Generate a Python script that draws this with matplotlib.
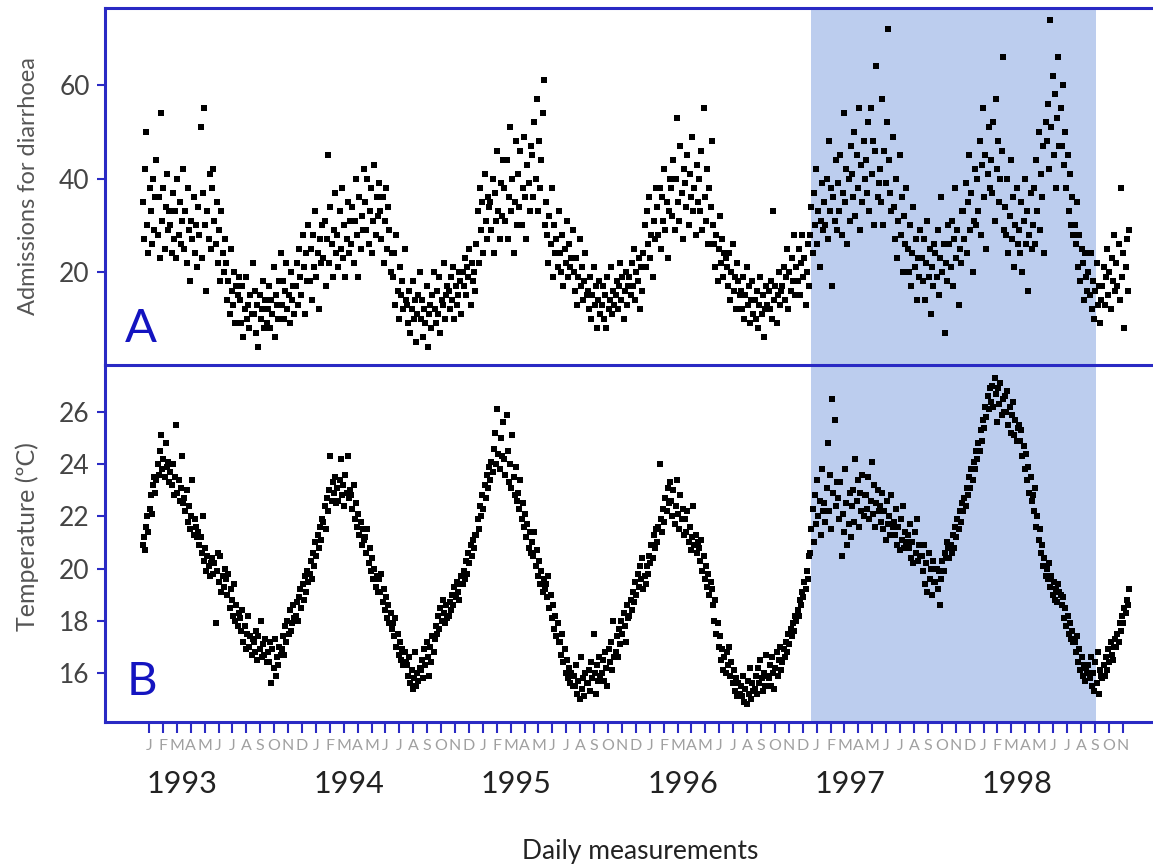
import numpy as np
import matplotlib
matplotlib.use("Agg")
import matplotlib.pyplot as plt
import matplotlib.transforms as mtransforms

plt.rcParams['font.family'] = ['Lato', 'DejaVu Sans']

# daily admissions for diarrhoea (12 readings per month)
adm_1993 = [
    [35, 27, 42, 50, 30, 24, 38, 33, 26, 40, 29, 36],
    [44, 28, 36, 23, 54, 31, 38, 25, 34, 41, 29, 33],
    [30, 24, 37, 27, 33, 23, 40, 28, 35, 26, 31, 42],
    [25, 33, 22, 38, 29, 18, 31, 27, 36, 24, 30, 21],
    [34, 28, 51, 23, 37, 55, 30, 16, 33, 27, 41, 25],
    [38, 42, 31, 26, 35, 22, 29, 18, 33, 24, 20, 27],
    [22, 14, 18, 11, 25, 16, 13, 20, 9, 17, 15, 19],
    [14, 9, 17, 6, 12, 19, 10, 13, 8, 15, 11, 22],
    [11, 16, 7, 13, 4, 15, 10, 12, 18, 8, 14, 9],
    [12, 17, 8, 14, 11, 21, 6, 15, 13, 10, 18, 24],
    [13, 18, 10, 16, 22, 12, 15, 9, 20, 14, 17, 11],
    [17, 22, 13, 25, 19, 15, 28, 21, 11, 24, 18, 30],
]
adm_1994 = [
    [18, 25, 14, 28, 21, 33, 19, 24, 12, 27, 22, 30],
    [23, 31, 17, 27, 45, 22, 34, 26, 19, 29, 37, 24],
    [28, 21, 33, 25, 38, 23, 30, 19, 27, 35, 24, 31],
    [26, 34, 22, 31, 40, 28, 19, 36, 25, 32, 29, 42],
    [35, 29, 40, 26, 33, 38, 24, 31, 43, 28, 36, 32],
    [39, 33, 27, 36, 22, 31, 38, 25, 34, 29, 20, 24],
    [19, 24, 13, 28, 16, 10, 21, 15, 18, 12, 25, 14],
    [13, 9, 16, 7, 12, 18, 10, 14, 5, 11, 15, 20],
    [10, 14, 6, 12, 9, 17, 4, 11, 13, 8, 15, 20],
    [12, 9, 16, 11, 19, 7, 14, 13, 22, 10, 15, 17],
    [16, 12, 19, 14, 21, 10, 17, 13, 15, 20, 18, 11],
    [20, 17, 23, 15, 21, 19, 25, 13, 22, 18, 20, 16],
]
adm_1995 = [
    [26, 33, 22, 38, 29, 35, 24, 41, 31, 27, 36, 34],
    [35, 29, 40, 24, 37, 31, 46, 33, 27, 39, 32, 44],
    [38, 31, 44, 27, 36, 51, 33, 40, 24, 35, 48, 30],
    [41, 34, 46, 30, 38, 49, 36, 27, 43, 39, 33, 47],
    [45, 36, 52, 40, 57, 33, 48, 38, 44, 54, 61, 30],
    [35, 28, 22, 32, 26, 38, 19, 30, 24, 27, 21, 33],
    [24, 20, 28, 17, 25, 22, 31, 19, 26, 21, 23, 29],
    [20, 16, 23, 13, 19, 27, 17, 21, 14, 18, 24, 15],
    [16, 12, 19, 10, 15, 21, 13, 17, 8, 14, 18, 11],
    [13, 17, 10, 15, 8, 19, 12, 14, 21, 11, 16, 13],
    [15, 18, 12, 17, 22, 14, 19, 10, 16, 20, 13, 17],
    [19, 15, 22, 17, 25, 14, 20, 18, 23, 12, 21, 16],
]
adm_1996 = [
    [24, 30, 21, 33, 26, 36, 23, 28, 19, 31, 27, 38],
    [34, 28, 38, 25, 36, 31, 42, 29, 35, 23, 33, 40],
    [38, 32, 44, 29, 40, 53, 35, 31, 47, 37, 27, 42],
    [39, 34, 45, 30, 41, 36, 49, 33, 38, 28, 43, 35],
    [40, 33, 46, 29, 55, 36, 31, 42, 26, 38, 34, 48],
    [30, 26, 21, 28, 18, 25, 32, 22, 27, 19, 24, 23],
    [21, 17, 24, 14, 20, 26, 16, 19, 12, 22, 18, 15],
    [16, 12, 19, 10, 15, 21, 13, 17, 9, 14, 18, 11],
    [14, 10, 16, 8, 13, 19, 11, 15, 6, 12, 17, 13],
    [16, 12, 18, 10, 33, 14, 17, 9, 15, 20, 13, 16],
    [17, 21, 14, 19, 25, 12, 20, 16, 23, 18, 28, 15],
    [21, 18, 25, 15, 22, 28, 19, 23, 13, 20, 26, 17],
]
adm_1997 = [
    [28, 34, 24, 37, 30, 42, 26, 33, 21, 31, 39, 29],
    [35, 30, 40, 27, 48, 33, 38, 17, 36, 31, 44, 29],
    [39, 33, 45, 28, 37, 54, 35, 42, 26, 40, 31, 47],
    [41, 36, 50, 32, 45, 38, 55, 29, 43, 35, 48, 40],
    [44, 37, 52, 33, 55, 41, 48, 30, 46, 64, 36, 39],
    [42, 35, 57, 30, 46, 39, 52, 72, 44, 37, 33, 49],
    [34, 27, 40, 23, 31, 45, 28, 36, 20, 32, 26, 38],
    [25, 20, 30, 17, 24, 34, 21, 27, 14, 23, 19, 29],
    [23, 18, 27, 14, 22, 31, 19, 25, 11, 21, 17, 26],
    [24, 19, 29, 15, 23, 36, 20, 26, 7, 22, 18, 30],
    [26, 21, 31, 17, 27, 38, 23, 29, 13, 25, 22, 33],
    [33, 27, 39, 24, 35, 45, 29, 37, 20, 31, 42, 30],
]
adm_1998 = [
    [40, 33, 48, 28, 43, 55, 36, 45, 25, 41, 51, 38],
    [44, 37, 52, 31, 57, 42, 48, 35, 40, 46, 66, 29],
    [34, 28, 40, 24, 32, 44, 27, 36, 21, 30, 38, 26],
    [29, 24, 35, 20, 31, 40, 26, 33, 16, 28, 37, 25],
    [30, 38, 26, 44, 33, 50, 29, 41, 36, 47, 24, 52],
    [48, 56, 42, 74, 51, 62, 45, 58, 38, 53, 66, 47],
    [55, 47, 60, 43, 50, 38, 45, 33, 41, 30, 36, 28],
    [30, 26, 35, 21, 28, 18, 25, 22, 14, 24, 19, 16],
    [20, 15, 24, 12, 18, 10, 16, 22, 13, 17, 9, 14],
    [17, 21, 13, 19, 25, 15, 20, 12, 23, 18, 28, 16],
    [22, 17, 26, 14, 38, 19, 24, 8, 21, 27, 16, 29],
]

# daily temperature (deg C), 12 readings per month
temp_1993 = [
    [20.9, 21.2, 20.7, 21.6, 22.0, 21.4, 22.3, 22.8, 22.1, 23.2, 23.5, 22.9],
    [23.4, 24.0, 23.6, 24.5, 25.1, 23.8, 24.2, 23.5, 24.8, 23.9, 24.1, 23.3],
    [23.7, 23.2, 24.0, 22.8, 23.5, 25.5, 22.9, 23.4, 22.6, 23.1, 24.3, 22.5],
    [22.7, 22.2, 23.0, 21.8, 22.4, 21.5, 22.0, 23.4, 21.3, 21.9, 21.6, 21.2],
    [21.4, 20.9, 21.2, 20.6, 22.0, 20.3, 20.8, 19.9, 20.5, 20.1, 19.7, 20.2],
    [20.4, 19.8, 20.2, 17.9, 19.9, 20.6, 19.5, 20.5, 19.1, 19.7, 19.3, 20.0],
    [19.6, 19.0, 19.8, 18.5, 19.2, 18.8, 18.2, 19.4, 18.0, 18.6, 17.8, 18.3],
    [18.1, 17.6, 18.4, 17.2, 17.8, 16.9, 17.5, 18.2, 17.0, 17.4, 16.7, 17.3],
    [17.2, 16.8, 17.6, 16.5, 17.4, 16.9, 18.0, 16.6, 17.1, 16.7, 17.3, 16.4],
    [16.8, 16.4, 17.2, 15.6, 16.9, 16.2, 17.3, 15.9, 16.6, 16.3, 17.0, 16.7],
    [16.9, 17.4, 16.7, 17.8, 17.2, 18.0, 17.5, 18.4, 17.6, 17.9, 18.6, 18.1],
    [18.2, 18.7, 18.0, 18.9, 19.2, 18.5, 19.4, 18.8, 19.7, 19.1, 19.9, 19.5],
]
temp_1994 = [
    [19.8, 20.3, 19.6, 20.6, 20.1, 21.0, 20.5, 21.3, 20.8, 21.6, 21.1, 21.9],
    [21.8, 22.4, 21.5, 22.7, 22.2, 23.0, 24.3, 22.6, 23.3, 22.9, 23.5, 22.5],
    [23.1, 22.6, 23.4, 24.2, 22.8, 23.2, 22.4, 23.6, 22.9, 24.3, 22.7, 23.0],
    [22.8, 22.3, 23.2, 21.9, 22.5, 21.6, 22.1, 21.3, 21.8, 20.9, 21.5, 21.1],
    [21.2, 20.6, 21.5, 20.2, 20.8, 19.9, 20.4, 19.6, 20.0, 19.3, 19.7, 19.1],
    [19.6, 19.1, 19.8, 18.7, 19.2, 18.4, 18.9, 18.1, 18.6, 17.9, 18.3, 17.7],
    [17.9, 17.4, 18.1, 17.0, 17.5, 16.7, 17.2, 16.5, 16.9, 16.3, 16.8, 16.4],
    [16.3, 15.9, 16.6, 15.6, 16.1, 15.4, 15.8, 16.8, 15.5, 16.0, 15.7, 16.2],
    [16.1, 16.5, 15.8, 16.9, 16.3, 17.2, 16.6, 15.9, 17.0, 16.4, 17.4, 16.8],
    [17.3, 17.8, 17.5, 18.2, 17.7, 18.5, 18.0, 18.8, 18.3, 17.9, 18.6, 18.1],
    [18.2, 18.7, 18.4, 19.0, 18.6, 19.3, 18.9, 19.5, 19.1, 18.8, 19.4, 19.7],
    [19.4, 19.9, 19.6, 20.3, 19.8, 20.6, 20.2, 20.9, 20.5, 21.1, 20.8, 21.3],
]
temp_1995 = [
    [21.3, 21.9, 21.5, 22.4, 22.0, 22.8, 22.3, 23.2, 22.7, 23.6, 23.1, 23.9],
    [23.4, 24.1, 23.7, 24.6, 25.2, 24.0, 26.1, 24.4, 23.8, 25.0, 24.3, 25.6],
    [24.2, 23.6, 25.9, 24.5, 23.3, 24.0, 23.1, 25.1, 23.5, 22.8, 23.9, 22.6],
    [22.9, 22.3, 23.4, 21.9, 22.5, 21.6, 22.1, 21.2, 21.7, 20.8, 21.4, 20.6],
    [21.0, 20.5, 21.4, 20.1, 20.7, 19.7, 20.3, 19.4, 19.9, 19.1, 19.6, 19.2],
    [19.4, 18.9, 19.7, 18.5, 19.0, 18.1, 18.6, 17.7, 18.2, 17.4, 17.9, 17.2],
    [17.2, 16.7, 17.5, 16.4, 16.9, 16.0, 16.5, 15.8, 16.2, 15.6, 16.0, 15.5],
    [15.9, 15.5, 16.3, 15.2, 15.7, 15.0, 16.6, 15.4, 15.8, 15.1, 16.0, 15.6],
    [15.6, 16.1, 15.3, 16.4, 15.8, 17.5, 16.0, 15.2, 16.3, 15.7, 16.6, 15.9],
    [16.0, 16.5, 15.7, 16.8, 16.2, 15.5, 16.9, 16.4, 17.2, 16.1, 18.0, 16.6],
    [16.8, 17.4, 16.6, 17.7, 17.1, 18.0, 17.5, 18.3, 17.8, 17.2, 18.6, 18.1],
    [18.2, 18.8, 18.4, 19.1, 18.7, 19.5, 19.0, 19.8, 19.3, 20.1, 19.6, 20.4],
]
temp_1996 = [
    [19.2, 19.7, 19.4, 20.1, 19.8, 20.5, 20.2, 20.9, 20.4, 21.3, 20.8, 21.5],
    [21.0, 21.6, 24.0, 21.9, 21.4, 22.3, 21.8, 22.7, 22.2, 23.1, 22.5, 23.3],
    [22.6, 22.0, 23.0, 21.7, 22.4, 23.4, 22.1, 21.5, 22.8, 21.9, 22.3, 21.3],
    [21.9, 21.4, 22.2, 21.0, 21.6, 20.7, 21.2, 22.4, 20.9, 21.3, 20.6, 21.0],
    [20.8, 20.3, 21.1, 19.9, 20.5, 19.6, 20.1, 19.3, 19.8, 19.0, 19.5, 19.2],
    [18.6, 18.0, 18.8, 17.5, 17.9, 17.0, 17.4, 16.5, 16.9, 16.1, 16.6, 16.0],
    [16.8, 16.3, 17.0, 15.9, 16.4, 15.6, 16.1, 15.3, 15.8, 15.1, 15.6, 15.2],
    [15.5, 15.1, 15.9, 14.9, 15.4, 14.8, 15.7, 15.2, 16.2, 15.0, 15.6, 15.3],
    [15.4, 15.9, 15.2, 16.2, 15.6, 16.5, 15.8, 15.3, 16.0, 15.5, 16.7, 15.9],
    [15.8, 16.3, 15.5, 16.6, 16.0, 15.4, 16.2, 16.8, 15.9, 16.5, 17.0, 16.1],
    [16.4, 16.9, 16.6, 17.2, 16.8, 17.5, 17.1, 17.7, 17.4, 17.9, 17.6, 18.2],
    [18.0, 18.4, 18.2, 18.8, 18.6, 19.1, 18.9, 19.5, 19.2, 19.9, 19.6, 20.5],
]
temp_1997 = [
    [20.6, 21.5, 22.3, 21.0, 22.8, 21.7, 23.4, 22.0, 22.6, 21.3, 23.8, 22.2],
    [22.5, 21.8, 23.1, 24.8, 22.2, 23.6, 21.5, 26.5, 22.9, 25.7, 22.4, 23.3],
    [22.7, 21.9, 23.3, 20.5, 22.1, 21.4, 23.8, 22.5, 20.9, 21.7, 22.9, 21.2],
    [22.4, 23.0, 21.8, 24.2, 22.6, 23.4, 21.6, 22.9, 22.2, 23.6, 22.0, 22.8],
    [22.8, 22.3, 23.5, 21.9, 22.6, 24.1, 22.1, 23.2, 21.6, 22.5, 23.0, 22.2],
    [22.4, 21.8, 22.9, 21.5, 22.2, 21.1, 22.6, 21.7, 22.0, 21.3, 22.8, 21.6],
    [21.8, 21.3, 22.3, 20.9, 21.6, 20.7, 21.9, 21.1, 22.4, 20.8, 21.4, 21.0],
    [21.3, 20.8, 21.7, 20.4, 21.0, 20.2, 21.4, 20.6, 21.9, 20.3, 20.9, 20.5],
    [20.5, 19.9, 20.9, 19.4, 20.2, 19.1, 20.6, 19.6, 20.0, 19.0, 20.3, 19.5],
    [19.5, 20.0, 19.2, 19.9, 18.6, 19.6, 20.3, 19.9, 20.6, 20.4, 21.0, 20.8],
    [20.4, 20.9, 20.6, 21.3, 20.8, 21.6, 21.2, 21.9, 21.5, 22.2, 21.8, 22.5],
    [22.2, 22.7, 22.4, 23.1, 22.8, 23.5, 23.1, 23.8, 23.4, 24.1, 23.8, 24.5],
]
temp_1998 = [
    [24.2, 24.8, 24.5, 25.3, 24.9, 25.7, 25.4, 26.2, 25.8, 26.6, 26.1, 26.9],
    [26.4, 27.0, 26.2, 27.3, 26.7, 25.6, 26.9, 26.3, 27.1, 25.9, 26.5, 26.0],
    [26.6, 26.0, 26.8, 25.5, 26.2, 25.2, 25.9, 26.4, 25.1, 25.7, 24.9, 25.4],
    [25.5, 24.9, 25.3, 24.3, 24.7, 23.8, 24.4, 23.4, 23.9, 22.9, 23.5, 22.6],
    [22.8, 22.2, 23.1, 21.6, 22.0, 21.1, 21.5, 20.6, 20.9, 20.1, 20.4, 19.7],
    [20.0, 19.6, 20.2, 19.3, 19.7, 19.0, 19.5, 18.8, 19.2, 18.7, 19.4, 19.1],
    [19.0, 18.6, 18.9, 18.1, 18.5, 17.8, 18.2, 17.5, 17.9, 17.3, 17.6, 17.2],
    [17.2, 16.8, 17.4, 16.4, 16.9, 16.1, 16.6, 15.9, 16.3, 15.7, 16.2, 16.0],
    [16.3, 15.8, 16.6, 15.5, 16.0, 15.3, 16.4, 15.6, 16.8, 15.2, 16.1, 15.9],
    [15.8, 16.3, 15.9, 16.6, 16.1, 16.9, 16.4, 17.2, 16.7, 16.5, 17.0, 17.3],
    [17.0, 17.5, 17.2, 17.9, 17.6, 18.2, 17.9, 18.5, 18.3, 18.8, 18.6, 19.2],
]

years = [1993, 1994, 1995, 1996, 1997, 1998]
month_letters = ['J', 'F', 'M', 'A', 'M', 'J', 'J', 'A', 'S', 'O', 'N', 'D']
shade_start, shade_end = 48.1, 68.6   # in months since Jan 1993

adm = np.array(adm_1993 + adm_1994 + adm_1995 + adm_1996 + adm_1997 + adm_1998, dtype=float)
temp = np.array(temp_1993 + temp_1994 + temp_1995 + temp_1996 + temp_1997 + temp_1998)
n_months = adm.shape[0]
# x position in months since 1 Jan 1993, readings spread across each month
x = (np.arange(n_months)[:, None] + (np.arange(12) + 0.5) / 12).ravel()

blue = '#2a2ac4'
W, H = 1153, 867
fig = plt.figure(figsize=(W / 100, H / 100), dpi=100)
ax1 = fig.add_axes([105 / W, 1 - 365 / H, 1 - 105 / W, 357 / H])
ax2 = fig.add_axes([105 / W, 1 - 722 / H, 1 - 105 / W, 357 / H], sharex=ax1)

for ax in (ax1, ax2):
    ax.axvspan(shade_start, shade_end, color='#bccdee', lw=0, zorder=0)
    for s in ax.spines.values():
        s.set_color(blue)
        s.set_linewidth(2.2)
    ax.spines['right'].set_visible(False)
    ax.tick_params(axis='y', colors=blue, length=6, width=1.5, direction='out',
                   labelcolor='#444444', labelsize=19, pad=5)

ax1.spines['bottom'].set_visible(False)

ax1.plot(x, adm.ravel(), 's', color='black', ms=4.0, mew=0)
ax2.plot(x, temp.ravel(), 's', color='black', ms=4.0, mew=0)

ax1.set_ylim(0.1, 76.5)
ax1.set_yticks([20, 40, 60])
ax2.set_ylim(14.12, 27.8)
ax2.set_yticks([16, 18, 20, 22, 24, 26])

ax1.set_xlim(-2.66, 72.68)
ax1.tick_params(axis='x', bottom=False, labelbottom=False)
ticks = np.arange(n_months) + 0.5
ax2.set_xticks(ticks)
ax2.set_xticklabels([month_letters[i % 12] for i in range(n_months)])
ax2.tick_params(axis='x', colors=blue, length=8, width=1.5, direction='out',
                labelcolor='#a0a0a0', labelsize=11.5, pad=4)

ax1.set_ylabel('Admissions for diarrhoea', fontsize=17, color='#555555')
ax2.set_ylabel('Temperature (ºC)', fontsize=18, color='#555555')
ax1.yaxis.set_label_coords(-66 / 1048, 0.50)
ax2.yaxis.set_label_coords(-66 / 1048, 0.52)

ax1.text(20 / 1048, 15 / 357, 'A', transform=ax1.transAxes, fontsize=34,
         color='#1414c0', ha='left', va='bottom')
ax2.text(22 / 1048, 19 / 357, 'B', transform=ax2.transAxes, fontsize=34,
         color='#1414c0', ha='left', va='bottom')

trans = mtransforms.blended_transform_factory(ax2.transData, ax2.transAxes)
for k, yr in enumerate(years):
    ax2.text(12 * k + 0.35, -0.175, str(yr), transform=trans, fontsize=22,
             color='#222222', ha='left', va='center')

fig.text(640 / W, 1 - 851 / H, 'Daily measurements', fontsize=19,
         color='#222222', ha='center', va='center')

fig.savefig('out.png', dpi=100)
